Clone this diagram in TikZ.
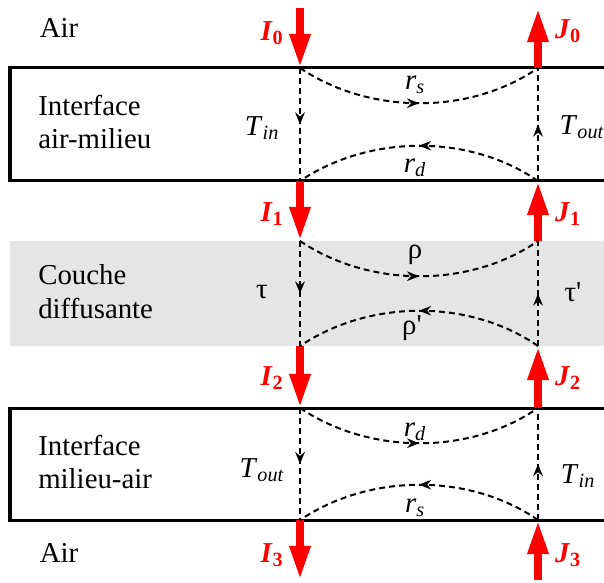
\documentclass[tikz,border=0pt]{standalone}
\usepackage{fontspec}
\setmainfont{Liberation Serif}
\usetikzlibrary{arrows.meta}
\usetikzlibrary{decorations.markings}

\newcommand{\coef}[2]{\textit{#1}\textsubscript{\textit{#2}}}
\newcommand{\flux}[2]{\textbf{\textit{#1}}\textsubscript{\textbf{#2}}}

\begin{document}
\begin{tikzpicture}[x=0.025cm, y=-0.025cm,
  every node/.style={font=\fontsize{20.5}{24}\selectfont, inner sep=0pt},
  layerbox/.style={draw, line width=0.075cm},
  fluxarrow/.style={draw=red, line width=0.2cm,
    -{Triangle[length=0.85cm, width=0.48cm]}},
  fluxlabel/.style={text=red},
  pathlabel/.style={},
  dashpath/.style={dash pattern=on 0.15cm off 0.1cm, line width=0.05cm,
    postaction={decorate}, decoration={markings,
      mark=at position 0.5 with {\arrow{Stealth[length=0.3cm, width=0.24cm]}}}}]

\useasboundingbox (0,0) rectangle (604,583);
\clip (0,0) rectangle (604,583);

% layers
\fill[black!10] (10,241) rectangle (604,346);
\draw[layerbox] (10,68) rectangle (640,181);
\draw[layerbox] (10,408) rectangle (640,520);

% boundary points
\coordinate (ain) at (300,8);
\coordinate (bout) at (538,8);
\coordinate (a0) at (300,68);  \coordinate (b0) at (538,68);
\coordinate (a1) at (300,181); \coordinate (b1) at (538,181);
\coordinate (a2) at (300,241); \coordinate (b2) at (538,241);
\coordinate (a3) at (300,346); \coordinate (b3) at (538,346);
\coordinate (a4) at (300,408); \coordinate (b4) at (538,408);
\coordinate (a5) at (300,520); \coordinate (b5) at (538,520);
\coordinate (aout) at (300,580);
\coordinate (bin) at (538,580);

% fluxes
\draw[fluxarrow] (ain) -- (a0);
\draw[fluxarrow] (b0) -- (bout);
\draw[fluxarrow] (a1) -- (a2);
\draw[fluxarrow] (b2) -- (b1);
\draw[fluxarrow] (a3) -- (a4);
\draw[fluxarrow] (b4) -- (b3);
\draw[fluxarrow] (a5) -- (aout);
\draw[fluxarrow] (bin) -- (b5);

% transmission and reflection paths
\foreach \t/\b in {0/1, 2/3, 4/5} {
  \draw[dashpath] (a\t) -- (a\b);
  \draw[dashpath] (b\b) -- (b\t);
  \draw[dashpath] (a\t) .. controls +(70,47) and +(-68,47) .. (b\t);
  \draw[dashpath] (b\b) .. controls +(-68,-47) and +(70,-47) .. (a\b);
}

% media
\node (airtop) at (59,28) {Air};
\node[anchor=west, align=left] (iface1) at (38,122) {Interface\\air-milieu};
\node[anchor=west, align=left] (couche) at (38,292) {Couche\\diffusante};
\node[anchor=west, align=left] (iface2) at (38,462) {Interface\\milieu-air};
\node (airbot) at (59,553) {Air};

% flux labels
\node[fluxlabel] (I0) at (272,33) {\flux{I}{0}};
\node[fluxlabel] (J0) at (568,31) {\flux{J}{0}};
\node[fluxlabel] (I1) at (272,214) {\flux{I}{1}};
\node[fluxlabel] (J1) at (568,214) {\flux{J}{1}};
\node[fluxlabel] (I2) at (272,378) {\flux{I}{2}};
\node[fluxlabel] (J2) at (568,378) {\flux{J}{2}};
\node[fluxlabel] (I3) at (272,555) {\flux{I}{3}};
\node[fluxlabel] (J3) at (568,555) {\flux{J}{3}};

% coefficients
\node[pathlabel] (rs1) at (415,85) {\coef{r}{s}};
\node[pathlabel] (rd1) at (415,168) {\coef{r}{d}};
\node[pathlabel] (Tin1) at (262,128) {\coef{T}{in}};
\node[pathlabel] (Tout1) at (582,127) {\coef{T}{out}};
\node[pathlabel] (rho) at (415,255) {ρ};
\node[pathlabel] (rhop) at (412,328) {ρ\textquotesingle};
\node[pathlabel] (tau) at (262,292) {τ};
\node[pathlabel] (taup) at (573,292) {τ\textquotesingle};
\node[pathlabel] (rd2) at (415,432) {\coef{r}{d}};
\node[pathlabel] (rs2) at (415,508) {\coef{r}{s}};
\node[pathlabel] (Tout2) at (262,470) {\coef{T}{out}};
\node[pathlabel] (Tin2) at (578,476) {\coef{T}{in}};
\end{tikzpicture}
\end{document}
